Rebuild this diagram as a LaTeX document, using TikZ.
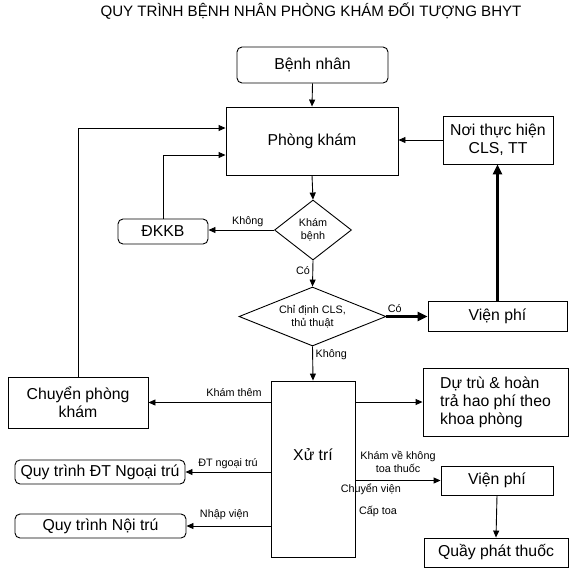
\documentclass[tikz,border=0pt]{standalone}
\usepackage{fontspec}
\setmainfont{Liberation Sans}
\usetikzlibrary{arrows.meta,shapes.geometric,calc}
\begin{document}
\begin{tikzpicture}[x=1pt,y=-1pt,
  box/.style={draw, line width=0.9pt, rectangle, inner sep=2pt, font=\fontsize{15.8}{18}\selectfont, align=center},
  rbox/.style={box, rounded corners=5pt},
  dia/.style={draw, diamond, line width=0.9pt, inner sep=0pt, font=\fontsize{10.8}{13}\selectfont, align=center},
  arr/.style={line width=0.9pt, -{Triangle[length=7pt,width=6pt]}},
  tarr/.style={line width=2.8pt, -{Triangle[length=10pt,width=9pt]}},
  lab/.style={font=\fontsize{10.8}{12.5}\selectfont, inner sep=2.5pt, align=center}]
\useasboundingbox (0,0) rectangle (577,571);
\node[font=\fontsize{15.1}{17}\selectfont] (title) at (311,11) {QUY TRÌNH BỆNH NHÂN PHÒNG KHÁM ĐỐI TƯỢNG BHYT};
\node[rbox, minimum width=151pt, minimum height=36pt] (bn) at (312.5,65) {Bệnh nhân};
\node[box, minimum width=172pt, minimum height=68pt] (pk) at (312,141) {Phòng khám};
\node[box, minimum width=110pt, minimum height=48pt] (nth) at (498,140) {Nơi thực hiện\\CLS, TT};
\node[dia, aspect=1.28, minimum width=77pt, minimum height=60pt] (kb) at (313,230) {Khám\\bệnh};
\node[rbox, minimum width=90pt, minimum height=25pt] (dkkb) at (163,231.5) {ĐKKB};
\node[dia, aspect=2.5, minimum width=147pt, minimum height=59pt] (cd) at (312.5,316.5) {Chỉ định CLS,\\thủ thuật};
\node[box, minimum width=139pt, minimum height=30pt] (vp1) at (497.5,316) {Viện phí};
\node[box, minimum width=84pt, minimum height=176pt] (xt) at (313,469) {};
\node[font=\fontsize{15.8}{18}\selectfont] (xtl) at (313,455) {Xử trí};
\node[box, minimum width=140pt, minimum height=51pt] (cpk) at (78,402.5) {Chuyển phòng\\khám};
\node[box, align=left, minimum width=145pt, minimum height=68pt] (dt) at (495.5,402) {Dự trù \& hoàn\\trả hao phí theo\\khoa phòng};
\node[rbox, minimum width=170pt, minimum height=24pt] (ngoai) at (100,472) {Quy trình ĐT Ngoại trú};
\node[rbox, minimum width=171pt, minimum height=24pt] (noi) at (100.5,526) {Quy trình Nội trú};
\node[box, minimum width=112pt, minimum height=29pt] (vp2) at (497,480.5) {Viện phí};
\node[box, minimum width=144pt, minimum height=29pt] (qpt) at (496,552.5) {Quầy phát thuốc};
\coordinate (pkin1) at ($(pk.west)+(0,-13)$);
\coordinate (pkin2) at ($(pk.west)+(0,14)$);
\draw[arr] (bn.south) -- (pk.north);
\draw[arr] (nth.west) -- (nth.west -| pk.east);
\draw[arr] (pk.south) -- (kb.north);
\draw[arr] (kb.west) -- node[lab, above, pos=0.4] {Không} (kb.west -| dkkb.east);
\draw[arr] (dkkb.north) |- (pkin2);
\draw[arr] (kb.south) -- node[lab, left, pos=0.4] {Có} (cd.north);
\draw[tarr] (cd.east) -- node[lab, above, pos=0.2] {Có} (cd.east -| vp1.west);
\draw[tarr] (vp1.north) -- (vp1.north |- nth.south);
\draw[arr] (cd.south) -- node[lab, right, pos=0.25] {Không} (xt.north);
\draw[arr] (xt.west |- cpk.east) -- node[lab, above=3pt, pos=0.3] {Khám thêm} (cpk.east);
\draw[arr] (cpk.north) |- (pkin1);
\draw[arr] (xt.east |- dt.west) -- (dt.west);
\draw[arr] (xt.west |- ngoai.east) -- node[lab, above, pos=0.5] {ĐT ngoại trú} (ngoai.east);
\draw[arr] (xt.west |- noi.east) -- node[lab, above=3pt, pos=0.55] {Nhập viện} (noi.east);
\draw[arr] (xt.east |- vp2.west) -- node[lab, above=5pt, pos=0.5] {Khám về không\\toa thuốc} node[lab, below, pos=0.18] (cv) {Chuyển viện} (vp2.west);
\node[lab] (ct) at (378,511) {Cấp toa};
\draw[arr] (vp2.south) -- (qpt.north);
\end{tikzpicture}
\end{document}
